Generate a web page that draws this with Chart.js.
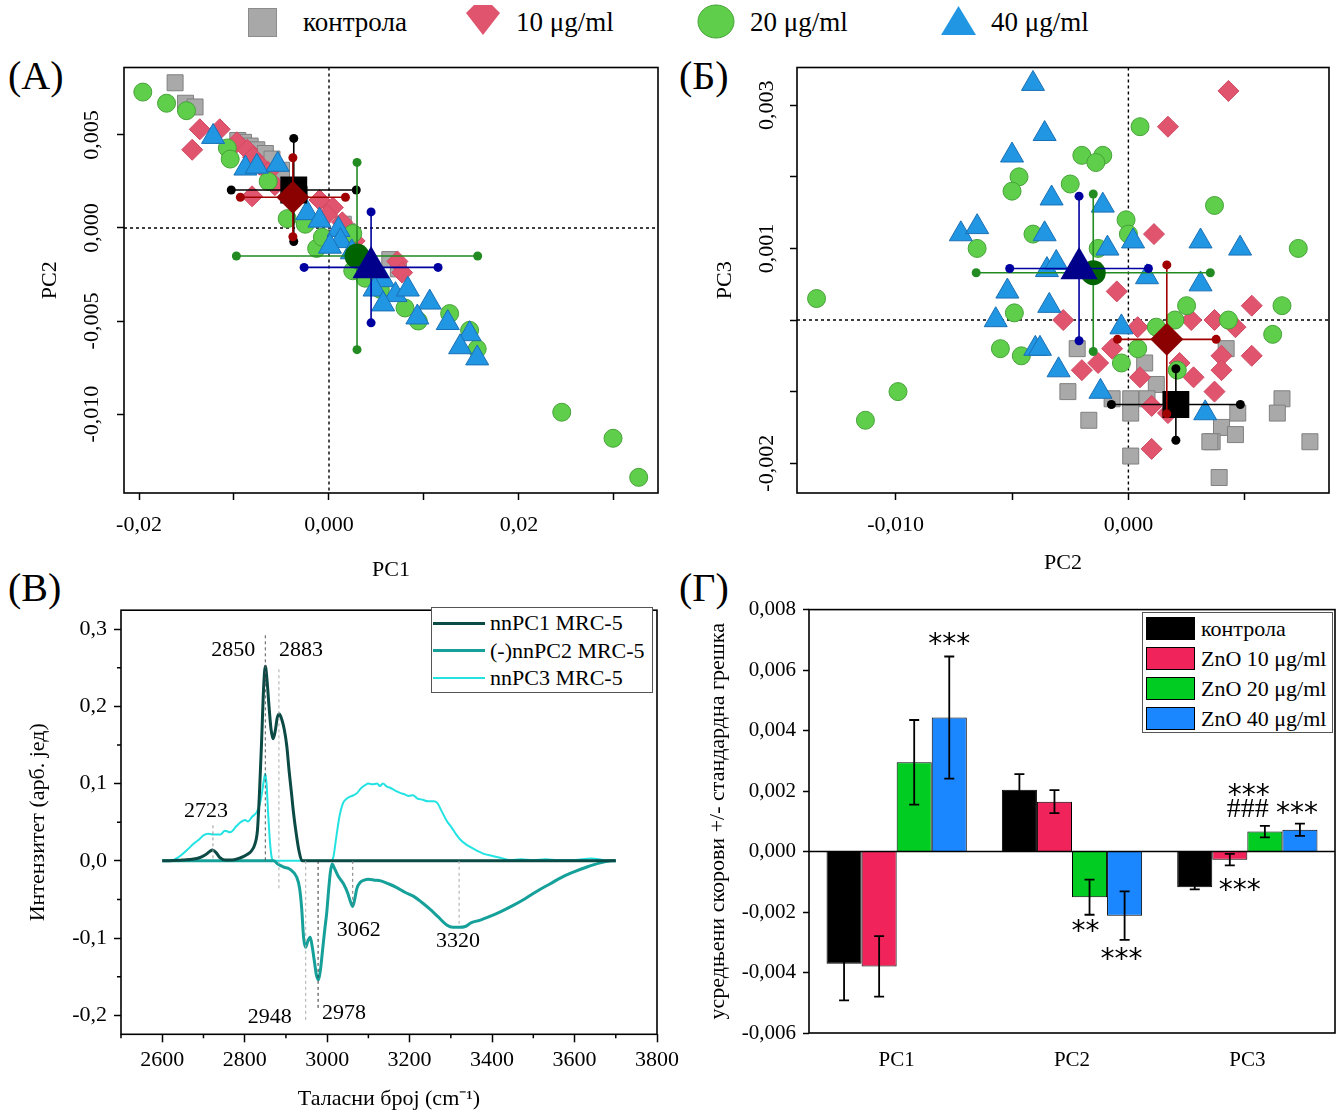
<!DOCTYPE html>
<html>
<head>
<meta charset="utf-8">
<script src="https://cdn.jsdelivr.net/npm/chart.js@4.4.1/dist/chart.umd.min.js"></script>
<style>
body{margin:0;background:#fff;}
#page{position:relative;width:1337px;height:1112px;overflow:hidden;font-family:'Liberation Serif','Times New Roman',serif;color:#000;}
canvas{position:absolute;}
.t{position:absolute;white-space:nowrap;}
.lg{font-size:27px;line-height:32px;top:6px;}
.pl{font-size:40px;line-height:40px;}
.box{position:absolute;border:1px solid #555;background:#fff;box-sizing:border-box;}
</style>
</head>
<body>
<div id="page">
  <!-- shared legend for the two score plots -->
  <div class="t" style="left:248px;top:8px;width:29px;height:29px;background:#a8a8a8;border:1px solid #8c8c8c;box-sizing:border-box"></div>
  <div class="t lg" style="left:303px">контрола</div>
  <svg class="t" style="left:465px;top:3px" width="36" height="33"><polygon points="1,10 9,2 27,2 35,10 18,32" fill="#e0546e"/></svg>
  <div class="t lg" style="left:516px">10 μg/ml</div>
  <svg class="t" style="left:697px;top:4px" width="38" height="35"><ellipse cx="19" cy="17.5" rx="18" ry="16.5" fill="#5fcf4b" stroke="#46a238"/></svg>
  <div class="t lg" style="left:750px">20 μg/ml</div>
  <svg class="t" style="left:940px;top:5px" width="37" height="31"><polygon points="18.5,1 36,30 1,30" fill="#2196e3"/></svg>
  <div class="t lg" style="left:991px">40 μg/ml</div>

  <div class="t pl" style="left:8px;top:56px">(А)</div>
  <div class="t pl" style="left:679px;top:56px">(Б)</div>
  <div class="t pl" style="left:8px;top:568px">(В)</div>
  <div class="t pl" style="left:679px;top:568px">(Г)</div>

  <canvas id="cA" width="680" height="540" style="left:0;top:50px"></canvas>
  <canvas id="cB" width="657" height="540" style="left:680px;top:50px"></canvas>
  <canvas id="cC" width="680" height="522" style="left:0;top:590px"></canvas>
  <canvas id="cD" width="657" height="522" style="left:680px;top:590px"></canvas>

  <div class="box" id="legC" style="left:431px;top:607px;width:222px;height:86px"></div>
  <div class="box" id="legD" style="left:1142px;top:612px;width:191px;height:121px"></div>
</div>
<script>
// ---- group stats (means, SD for score plots, SE for bars) ----
const groups = ['контрола', 'ZnO 10 μg/ml', 'ZnO 20 μg/ml', 'ZnO 40 μg/ml'];
const meanPC1 = [-0.00371, -0.0038, 0.00295, 0.00443];
const meanPC2 = [0.00204, 0.00165, -0.00151, -0.00212];
const meanPC3 = [-0.00118, -0.00027, 0.00066, 0.00072];
const sdPC1 = [0.00658, 0.00553, 0.0127, 0.00705];
const sdPC2 = [0.00277, 0.00212, 0.00503, 0.00298];
const sdPC3 = [0.0005, 0.00104, 0.0011, 0.00101];
const sePC1 = [0.00121, 0.001, 0.0014, 0.00202];
const sePC2 = [0.00052, 0.00038, 0.00058, 0.0008];
const sePC3 = [0.00007, 0.00019, 0.00019, 0.0002];

// ---- individual scores, PC1 vs PC2 ----
const ctrlPC12 = [[-0.0162,0.0078],[-0.0151,0.0067],[-0.0141,0.0065],[-0.0096,0.0047],[-0.0090,0.0046],[-0.0083,0.0044],[-0.0076,0.0042],[-0.0067,0.0040],[-0.0060,0.0037],[-0.0050,0.0031],[-0.0031,0.0018],[0.0015,0.0002],[0.0019,-0.0002],[0.0064,-0.0017],[0.0073,-0.0022]];
const zn10PC12 = [[-0.0144,0.0042],[-0.0136,0.0053],[-0.0115,0.0053],[-0.0097,0.0046],[-0.0086,0.0042],[-0.0080,0.0038],[-0.0073,0.0034],[-0.0064,0.0030],[-0.0081,0.0017],[-0.0057,0.0023],[-0.0010,0.0015],[0.0004,0.0011],[-0.0002,0.0007],[0.0014,0.0003],[0.0027,-0.0007],[0.0072,-0.0018],[0.0077,-0.0024]];
const zn20PC12 = [[-0.0196,0.0073],[-0.0171,0.0067],[-0.0150,0.0063],[-0.0107,0.0043],[-0.0104,0.0037],[-0.0064,0.0025],[-0.0044,0.0005],[-0.0025,0.0002],[-0.0013,-0.0011],[-0.0007,-0.0005],[0.0025,-0.0003],[0.0030,-0.0016],[0.0025,-0.0023],[0.0038,-0.0027],[0.0054,-0.0033],[0.0080,-0.0043],[0.0094,-0.0050],[0.0127,-0.0046],[0.0148,-0.0055],[0.0156,-0.0065],[0.0245,-0.0099],[0.0299,-0.0113],[0.0326,-0.0134]];
const zn40PC12 = [[-0.0122,0.0049],[-0.0088,0.0032],[-0.0076,0.0033],[-0.0054,0.0034],[-0.0023,0.0008],[-0.0010,0.0004],[0.0010,-0.0001],[0.0012,-0.0007],[0.0001,-0.0010],[0.0024,-0.0013],[0.0057,-0.0028],[0.0048,-0.0033],[0.0070,-0.0036],[0.0083,-0.0033],[0.0057,-0.0041],[0.0106,-0.0040],[0.0093,-0.0048],[0.0125,-0.0051],[0.0148,-0.0057],[0.0138,-0.0064],[0.0156,-0.0070]];

// ---- individual scores, PC2 vs PC3 ----
const ctrlPC23 = [[-0.0026,-0.0010],[-0.0022,-0.0004],[0.0007,-0.0006],[0.0012,-0.0009],[-0.0007,-0.0011],[0.0001,-0.0011],[0.0008,-0.0011],[0.0001,-0.0013],[-0.0017,-0.0014],[0.0047,-0.0013],[0.0040,-0.0015],[0.0036,-0.0017],[0.0046,-0.0016],[0.0066,-0.0011],[0.0064,-0.0013],[0.0078,-0.0017],[0.0039,-0.0022],[0.0001,-0.0019],[0.0042,-0.0004],[0.0035,-0.0017]];
const zn10PC23 = [[0.0043,0.0032],[0.0017,0.0027],[0.0011,0.0012],[-0.0005,0.0004],[0.0004,-0.0001],[0.0027,0.0000],[0.0037,0.0000],[0.0046,-0.0001],[0.0053,0.0002],[-0.0028,0.0000],[-0.0020,-0.0007],[-0.0013,-0.0006],[-0.0007,-0.0004],[0.0005,-0.0008],[0.0022,-0.0006],[0.0028,-0.0008],[0.0040,-0.0005],[0.0040,-0.0007],[0.0053,-0.0005],[0.0037,-0.0010],[0.0010,-0.0012],[0.0017,-0.0013],[0.0010,-0.0018]];
const zn20PC23 = [[-0.0047,0.0020],[-0.0050,0.0018],[-0.0025,0.0019],[-0.0041,0.0012],[-0.0065,0.0010],[0.0005,0.0027],[-0.0020,0.0023],[-0.0011,0.0023],[-0.0014,0.0022],[0.0037,0.0016],[-0.0001,0.0014],[0.0000,0.0012],[-0.0013,0.0010],[0.0073,0.0010],[-0.0134,0.0003],[-0.0099,-0.0010],[-0.0113,-0.0014],[-0.0049,0.0001],[-0.0055,-0.0004],[-0.0046,-0.0005],[0.0025,0.0002],[0.0043,0.0000],[0.0066,0.0002],[0.0062,-0.0002],[0.0012,-0.0001],[0.0020,0.0000],[0.0004,-0.0004],[-0.0003,-0.0006],[0.0021,-0.0007]];
const zn40PC23 = [[-0.0041,0.0033],[-0.0036,0.0026],[-0.0050,0.0023],[-0.0033,0.0017],[-0.0072,0.0012],[-0.0065,0.0013],[-0.0036,0.0012],[-0.0035,0.0007],[-0.0031,0.0008],[-0.0011,0.0016],[-0.0009,0.0010],[0.0002,0.0011],[0.0031,0.0011],[0.0048,0.0010],[-0.0052,0.0004],[-0.0057,0.0000],[-0.0034,0.0002],[-0.0040,-0.0004],[-0.0030,-0.0007],[0.0008,0.0006],[0.0031,0.0005],[-0.0003,-0.0001],[-0.0012,-0.0010],[0.0033,-0.0013],[-0.0038,-0.0004]];

// ---- loading spectra ----
const wnPC1 = [2600,2650,2690,2705,2715,2722,2730,2740,2752,2770,2790,2805,2815,2825,2831,2836,2841,2846,2850,2854,2859,2864,2869,2874,2879,2884,2890,2896,2902,2908,2914,2918,2925,2932,2939,3000,3100,3300,3500,3700];
const nnPC1 = [0,0.001,0.004,0.008,0.012,0.014,0.011,0.004,0.001,0.001,0.004,0.008,0.012,0.022,0.04,0.09,0.155,0.225,0.252,0.235,0.2,0.17,0.158,0.168,0.185,0.19,0.183,0.17,0.149,0.115,0.085,0.064,0.035,0.012,0,0,0,0,0,0];
const wnPC2 = [2600,2700,2800,2870,2880,2895,2910,2926,2933,2938,2943,2948,2953,2959,2964,2969,2974,2979,2984,2989,2994,2999,3004,3008,3012,3018,3027,3040,3050,3056,3062,3066,3072,3080,3090,3100,3115,3130,3150,3170,3190,3210,3230,3250,3270,3290,3305,3320,3335,3350,3370,3390,3420,3450,3480,3510,3540,3570,3600,3630,3660,3690,3700];
const nnPC2 = [0,0,0,0,-0.004,-0.008,-0.011,-0.021,-0.035,-0.06,-0.1,-0.112,-0.104,-0.099,-0.112,-0.13,-0.148,-0.154,-0.14,-0.115,-0.09,-0.067,-0.035,-0.014,-0.004,-0.01,-0.02,-0.03,-0.042,-0.052,-0.059,-0.052,-0.036,-0.028,-0.025,-0.024,-0.025,-0.026,-0.03,-0.035,-0.041,-0.046,-0.054,-0.063,-0.073,-0.083,-0.086,-0.086,-0.085,-0.08,-0.077,-0.073,-0.066,-0.058,-0.049,-0.039,-0.03,-0.021,-0.014,-0.008,-0.003,0,0];
const wnPC3 = [2600,2620,2640,2660,2676,2690,2700,2712,2725,2741,2752,2765,2780,2790,2801,2808,2818,2829,2836,2842,2847,2850,2853,2857,2862,2866,2870,2950,3010,3015,3022,3030,3038,3044,3055,3065,3073,3082,3092,3100,3110,3121,3128,3135,3145,3155,3165,3177,3188,3198,3208,3218,3232,3245,3258,3267,3278,3291,3302,3312,3322,3335,3350,3364,3380,3403,3420,3443,3470,3500,3530,3560,3600,3640,3670,3700];
const nnPC3 = [0,0,0.005,0.014,0.022,0.028,0.033,0.035,0.034,0.034,0.039,0.037,0.045,0.05,0.053,0.051,0.057,0.063,0.072,0.088,0.106,0.113,0.1,0.06,0.02,0.003,0,0,0,0.005,0.03,0.058,0.074,0.079,0.083,0.085,0.088,0.094,0.098,0.1,0.099,0.1,0.097,0.1,0.096,0.094,0.091,0.088,0.086,0.084,0.085,0.081,0.079,0.077,0.077,0.075,0.064,0.051,0.043,0.035,0.028,0.022,0.017,0.013,0.009,0.006,0.004,0.001,0.002,0.001,0.002,0.001,0.001,0.003,0.001,0];
const peakWn = [2723, 2850, 2883, 2948, 2978, 3062, 3320];

// ---- ticks ----
const xTicksA = [-0.02, -0.01, 0, 0.01, 0.02, 0.03];
const xTickLabelsA = ['-0,02', '', '0,000', '', '0,02', ''];
const yTicksA = [0.005, 0, -0.005, -0.01];
const yTickLabelsA = ['0,005', '0,000', '-0,005', '-0,010'];
const xTicksB = [-0.01, -0.005, 0, 0.005];
const xTickLabelsB = ['-0,010', '', '0,000', ''];
const yTicksB = [0.003, 0.002, 0.001, 0, -0.001, -0.002];
const yTickLabelsB = ['0,003', '', '0,001', '', '', '-0,002'];
const xTicksC = [2600, 2800, 3000, 3200, 3400, 3600, 3800];
const xMinorC = [2500, 2700, 2900, 3100, 3300, 3500, 3700];
const yTicksC = [-0.2, -0.1, 0, 0.1, 0.2, 0.3];
const yTickLabelsC = ['-0,2', '-0,1', '0,0', '0,1', '0,2', '0,3'];
const yMinorC = [-0.15, -0.05, 0.05, 0.15, 0.25];
const pcCats = ['PC1', 'PC2', 'PC3'];
const yTicksD = [-0.006, -0.004, -0.002, 0, 0.002, 0.004, 0.006, 0.008];
const yTickLabelsD = ['-0,006', '-0,004', '-0,002', '0,000', '0,002', '0,004', '0,006', '0,008'];

// significance marks on the bars: group, category, text
const sigGroup = [3, 2, 3, 2, 2, 3, 1];
const sigCat = [0, 1, 1, 2, 2, 2, 2];
const sigText = ['***', '**', '***', '***', '###', '***', '***'];

// ---- styles ----
const ptStyle = ['rect', 'rectRot', 'circle', 'triangle'];
const ptRadius = [11.3, 10.5, 9, 13.3];
const meanRadius = [19, 16.5, 12.5, 21.5];
const ptFill = ['#a9a9a9', '#e0546e', '#5fcf4b', '#2196e3'];
const ptEdge = ['#808080', '#cf4962', '#46a238', '#1a70b5'];
const meanFill = ['#000000', '#8b0000', '#006400', '#00008b'];
const errColor = ['#000000', '#a00000', '#228b22', '#0000a0'];
const barFill = ['#000000', '#f0245a', '#00cc22', '#1a86ff'];
const specColor = ['#0b4a45', '#15a09a', '#22e2e2'];
const specWidth = [3, 3, 2];
const specNames = ['nnPC1 MRC-5', '(-)nnPC2 MRC-5', 'nnPC3 MRC-5'];
const serif = "'Liberation Serif','Times New Roman',serif";

Chart.defaults.font.family = serif;
Chart.defaults.color = '#000';
Chart.defaults.animation = false;
Chart.defaults.plugins.legend.display = false;
Chart.defaults.plugins.tooltip.enabled = false;

const boxFrame = {
  id: 'boxFrame',
  afterDraw(chart) {
    const { ctx, chartArea: a } = chart;
    ctx.save();
    ctx.lineWidth = 1.6;
    ctx.strokeStyle = '#000';
    ctx.strokeRect(a.left, a.top, a.right - a.left, a.bottom - a.top);
    ctx.restore();
  }
};

const zeroCross = {
  id: 'zeroCross',
  beforeDatasetsDraw(chart) {
    const { ctx, chartArea: a, scales: { x, y } } = chart;
    const px = x.getPixelForValue(0), py = y.getPixelForValue(0);
    ctx.save();
    ctx.setLineDash([3, 3]);
    ctx.lineWidth = 1.4;
    ctx.strokeStyle = '#000';
    ctx.beginPath();
    ctx.moveTo(px, a.top); ctx.lineTo(px, a.bottom);
    ctx.moveTo(a.left, py); ctx.lineTo(a.right, py);
    ctx.stroke();
    ctx.restore();
  }
};

// draws error bars (with round ends) right before each mean marker
const errCross = {
  id: 'errCross',
  beforeDatasetDraw(chart, args) {
    const ds = chart.data.datasets[args.index];
    if (!ds.err) return;
    const xs = chart.scales.x, ys = chart.scales.y, p = ds.data[0];
    const cx = xs.getPixelForValue(p.x), cy = ys.getPixelForValue(p.y);
    const x1 = xs.getPixelForValue(p.x - ds.err[0]), x2 = xs.getPixelForValue(p.x + ds.err[0]);
    const y1 = ys.getPixelForValue(p.y - ds.err[1]), y2 = ys.getPixelForValue(p.y + ds.err[1]);
    const c = chart.ctx;
    c.save();
    c.strokeStyle = ds.errColor; c.fillStyle = ds.errColor; c.lineWidth = 1.6;
    c.beginPath();
    c.moveTo(x1, cy); c.lineTo(x2, cy);
    c.moveTo(cx, y1); c.lineTo(cx, y2);
    c.stroke();
    [[x1, cy], [x2, cy], [cx, y1], [cx, y2]].forEach(([x, y]) => {
      c.beginPath(); c.arc(x, y, 4.5, 0, Math.PI * 2); c.fill();
    });
    c.restore();
  }
};

// vertical tick labels on the left axis
function sideLabels(labels, gap) {
  return {
    id: 'sideLabels',
    afterDraw(chart) {
      const s = chart.scales.y, c = chart.ctx;
      c.save();
      c.font = '22px ' + serif;
      c.fillStyle = '#000';
      c.textAlign = 'center';
      c.textBaseline = 'alphabetic';
      s.ticks.forEach((t, i) => {
        if (!labels[i]) return;
        c.save();
        c.translate(s.right - gap, s.getPixelForValue(t.value));
        c.rotate(-Math.PI / 2);
        c.fillText(labels[i], 0, 0);
        c.restore();
      });
      c.restore();
    }
  };
}

function setTicks(vals) {
  return s => { s.ticks = vals.map(v => ({ value: v })); };
}

// fixed axis depth, no extra side padding from edge labels
function fixHeight(h) {
  return s => { s.height = h; s.paddingLeft = 0; s.paddingRight = 0; };
}

function pcaChart(id, pts, mx, my, sx, sy, o) {
  const small = pts.map((p, g) => ({
    data: p.map(d => ({ x: d[0], y: d[1] })),
    pointStyle: ptStyle[g], pointRadius: ptRadius[g], pointHoverRadius: ptRadius[g],
    backgroundColor: ptFill[g], borderColor: ptEdge[g], borderWidth: 1,
    order: 8 - g
  }));
  const means = groups.map((n, g) => ({
    data: [{ x: mx[g], y: my[g] }],
    pointStyle: ptStyle[g], pointRadius: meanRadius[g], pointHoverRadius: meanRadius[g],
    backgroundColor: meanFill[g], borderColor: meanFill[g], borderWidth: 0,
    err: [sx[g], sy[g]], errColor: errColor[g],
    order: 4 - g
  }));
  return new Chart(document.getElementById(id), {
    type: 'scatter',
    data: { datasets: small.concat(means) },
    options: {
      responsive: false,
      layout: { autoPadding: false, padding: { top: 17.5, right: o.padRight, left: 0, bottom: 0 } },
      scales: {
        x: {
          type: 'linear', min: o.xMin, max: o.xMax,
          afterBuildTicks: setTicks(o.xTicks),
          afterFit: fixHeight(97),
          ticks: { callback: (v, i) => o.xLabels[i], font: { size: 22 }, padding: 12, maxRotation: 0, autoSkip: false },
          grid: { drawOnChartArea: false, tickLength: 7, tickColor: '#000', tickWidth: 1.5 },
          border: { display: false },
          title: { display: true, text: o.xTitle, font: { size: 22 }, padding: { top: 0, bottom: o.xTitlePad } }
        },
        y: {
          type: 'linear', min: o.yMin, max: o.yMax,
          afterBuildTicks: setTicks(o.yTicks),
          afterFit: s => { s.width = o.yWidth; },
          ticks: { display: false },
          grid: { drawOnChartArea: false, tickLength: 7, tickColor: '#000', tickWidth: 1.5 },
          border: { display: false },
          title: { display: true, text: o.yTitle, font: { size: 22 }, padding: { top: o.yTitlePad, bottom: 0 } }
        }
      }
    },
    plugins: [zeroCross, errCross, boxFrame, sideLabels(o.yLabels, o.labelGap)]
  });
}

// (A) PC1 vs PC2
pcaChart('cA', [ctrlPC12, zn10PC12, zn20PC12, zn40PC12], meanPC1, meanPC2, sdPC1, sdPC2, {
  xMin: -0.021579, xMax: 0.034632, yMin: -0.01424, yMax: 0.00862,
  xTicks: xTicksA, xLabels: xTickLabelsA, yTicks: yTicksA, yLabels: yTickLabelsA,
  xTitle: 'PC1', yTitle: 'PC2', xTitlePad: 7, yTitlePad: 37, yWidth: 124, padRight: 22, labelGap: 26
});

// (Б) PC2 vs PC3
pcaChart('cB', [ctrlPC23, zn10PC23, zn20PC23, zn40PC23], meanPC2, meanPC3, sdPC2, sdPC3, {
  xMin: -0.01424, xMax: 0.00862, yMin: -0.002416, yMax: 0.003527,
  xTicks: xTicksB, xLabels: xTickLabelsB, yTicks: yTicksB, yLabels: yTickLabelsB,
  xTitle: 'PC2', yTitle: 'PC3', xTitlePad: 14, yTitlePad: 32, yWidth: 117, padRight: 8, labelGap: 24
});

// (В) loading spectra
const peakLine = [[0.046, 0], [0.292, 0], [0.248, -0.036], [0, -0.209], [0, -0.194], [0, -0.057], [0, -0.085]];
const peakLineColor = ['#999', '#555', '#aaa', '#aaa', '#333', '#777', '#aaa'];
const peakLabelAt = [
  { align: 'center', dx: -7, y: 0.0646 }, { align: 'right', dx: -10, y: 0.273 },
  { align: 'left', dx: 0, y: 0.273 }, { align: 'right', dx: -14, y: -0.2025 },
  { align: 'left', dx: 4, y: -0.1975 }, { align: 'center', dx: 6, y: -0.0893 },
  { align: 'center', dx: -1, y: -0.1045 }
];
const peaks = {
  id: 'peaks',
  afterDraw(chart) {
    const { ctx: c, chartArea: a, scales: { x, y } } = chart;
    c.save();
    c.lineWidth = 1;
    c.setLineDash([3, 3]);
    peakWn.forEach((w, i) => {
      const px = x.getPixelForValue(w);
      c.strokeStyle = peakLineColor[i];
      c.beginPath();
      c.moveTo(px, y.getPixelForValue(peakLine[i][0]));
      c.lineTo(px, y.getPixelForValue(peakLine[i][1]));
      c.stroke();
    });
    c.setLineDash([]);
    c.fillStyle = '#000';
    c.font = '22px ' + serif;
    c.textBaseline = 'middle';
    peakWn.forEach((w, i) => {
      const l = peakLabelAt[i];
      c.textAlign = l.align;
      c.fillText(String(w), x.getPixelForValue(w) + l.dx, y.getPixelForValue(l.y));
    });
    // minor ticks
    c.strokeStyle = '#000';
    c.lineWidth = 1.5;
    c.beginPath();
    xMinorC.forEach(v => { const px = x.getPixelForValue(v); c.moveTo(px, a.bottom); c.lineTo(px, a.bottom + 4); });
    yMinorC.forEach(v => { const py = y.getPixelForValue(v); c.moveTo(a.left, py); c.lineTo(a.left - 4, py); });
    c.stroke();
    c.restore();
  }
};
const spectra = [[wnPC1, nnPC1], [wnPC2, nnPC2], [wnPC3, nnPC3]];
new Chart(document.getElementById('cC'), {
  type: 'line',
  data: {
    datasets: spectra.map((s, k) => ({
      label: specNames[k],
      data: s[0].map((w, i) => ({ x: w, y: s[1][i] })),
      borderColor: specColor[k], borderWidth: specWidth[k],
      pointRadius: 0, cubicInterpolationMode: 'monotone', fill: false,
      order: [1, 2, 3][k]
    }))
  },
  options: {
    responsive: false,
    layout: { autoPadding: false, padding: { top: 12.7, right: 23, left: 0, bottom: 0 } },
    scales: {
      x: {
        type: 'linear', min: 2500, max: 3800,
        afterBuildTicks: setTicks(xTicksC),
        afterFit: fixHeight(77.7),
        ticks: { callback: v => String(v), font: { size: 22 }, padding: 4.5, maxRotation: 0, autoSkip: false },
        grid: { drawOnChartArea: false, tickLength: 8, tickColor: '#000', tickWidth: 1.5 },
        border: { display: false },
        title: { display: true, text: 'Таласни број (cm⁻¹)', font: { size: 22 }, padding: { top: 0, bottom: 0 } }
      },
      y: {
        type: 'linear', min: -0.2246, max: 0.3245,
        afterBuildTicks: setTicks(yTicksC),
        afterFit: s => { s.width = 121; },
        ticks: { callback: (v, i) => yTickLabelsC[i], font: { size: 22 }, padding: 7 },
        grid: { drawOnChartArea: false, tickLength: 7, tickColor: '#000', tickWidth: 1.5 },
        border: { display: false },
        title: { display: true, text: 'Интензитет (арб. јед)', font: { size: 22 }, padding: { top: 25, bottom: 0 } }
      }
    }
  },
  plugins: [boxFrame, peaks]
});

// (Г) mean scores +/- SE
const sigShift = [[0, -16], [-4, 13], [-3, 16], [-16, -34], [-17, -16], [-3, -14], [10, 21]];
const barExtras = {
  id: 'barExtras',
  afterDatasetsDraw(chart) {
    const { ctx: c, chartArea: a, scales: { y } } = chart;
    c.save();
    c.strokeStyle = '#000';
    c.lineWidth = 1.5;
    const py0 = y.getPixelForValue(0);
    c.beginPath(); c.moveTo(a.left, py0); c.lineTo(a.right, py0); c.stroke();
    c.lineWidth = 1.8;
    chart.data.datasets.forEach((ds, g) => {
      chart.getDatasetMeta(g).data.forEach((bar, j) => {
        const v = ds.data[j], e = ds.err[j];
        const y1 = y.getPixelForValue(v + e), y2 = y.getPixelForValue(v - e);
        c.beginPath();
        c.moveTo(bar.x, y1); c.lineTo(bar.x, y2);
        c.moveTo(bar.x - 5, y1); c.lineTo(bar.x + 5, y1);
        c.moveTo(bar.x - 5, y2); c.lineTo(bar.x + 5, y2);
        c.stroke();
      });
    });
    c.fillStyle = '#000';
    c.textAlign = 'center';
    c.textBaseline = 'middle';
    sigText.forEach((t, k) => {
      const g = sigGroup[k], j = sigCat[k];
      const bar = chart.getDatasetMeta(g).data[j];
      const ds = chart.data.datasets[g];
      const v = ds.data[j], e = ds.err[j];
      const end = y.getPixelForValue(v >= 0 ? v + e : v - e);
      const star = t.indexOf('*') >= 0;
      c.font = star ? "28px 'DejaVu Sans'" : '28px ' + serif;
      c.fillText(t, bar.x + sigShift[k][0], end + sigShift[k][1] + (star ? 5 : 0));
    });
    c.restore();
  }
};
new Chart(document.getElementById('cD'), {
  type: 'bar',
  data: {
    labels: pcCats,
    datasets: groups.map((n, g) => ({
      label: n,
      data: [meanPC1[g], meanPC2[g], meanPC3[g]],
      err: [sePC1[g], sePC2[g], sePC3[g]],
      backgroundColor: barFill[g], borderColor: '#000', borderWidth: 1,
      categoryPercentage: 0.8, barPercentage: 1
    }))
  },
  options: {
    responsive: false,
    layout: { autoPadding: false, padding: { top: 19, right: 2, left: 0, bottom: 0 } },
    scales: {
      x: {
        type: 'category',
        afterFit: fixHeight(79),
        ticks: { font: { size: 21 }, padding: 6.4 },
        grid: { display: false },
        border: { display: false }
      },
      y: {
        type: 'linear', min: -0.006, max: 0.008,
        afterBuildTicks: setTicks(yTicksD),
        afterFit: s => { s.width = 129; },
        ticks: { callback: (v, i) => yTickLabelsD[i], font: { size: 21 }, padding: 7 },
        grid: { drawOnChartArea: false, tickLength: 6, tickColor: '#000', tickWidth: 1.5 },
        border: { display: false },
        title: { display: true, text: 'усредњени скорови +/- стандардна грешка', font: { size: 22 }, padding: { top: 25, bottom: 0 } }
      }
    }
  },
  plugins: [boxFrame, barExtras]
});

// HTML legends for (В) and (Г)
const legC = document.getElementById('legC');
specNames.forEach((n, k) => {
  const row = document.createElement('div');
  row.style.cssText = 'position:absolute;left:1px;top:' + (3 + k * 27.5) + 'px;height:24px;display:flex;align-items:center;font-size:22px;white-space:nowrap';
  row.innerHTML = '<span style="display:inline-block;width:52px;height:0;border-top:' + specWidth[k] + 'px solid ' + specColor[k] + ';margin-right:5px"></span>' + n;
  legC.appendChild(row);
});
const legD = document.getElementById('legD');
groups.forEach((n, g) => {
  const row = document.createElement('div');
  row.style.cssText = 'position:absolute;left:3px;top:' + (3 + g * 30) + 'px;height:25px;display:flex;align-items:center;font-size:22px;white-space:nowrap';
  row.innerHTML = '<span style="display:inline-block;width:49px;height:23px;background:' + barFill[g] + ';border:1px solid #000;margin-right:6px;box-sizing:border-box"></span>' + n;
  legD.appendChild(row);
});
</script>
</body>
</html>
